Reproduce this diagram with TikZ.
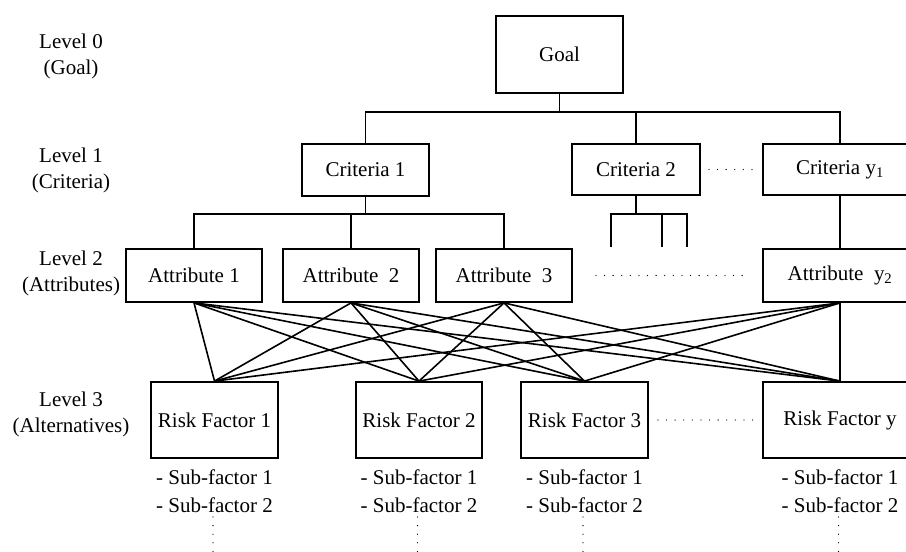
\documentclass[tikz,border=0pt]{standalone}
\usepackage{fontspec}
\setmainfont{Liberation Serif}
\begin{document}
\begin{tikzpicture}[x=1pt,y=-1pt,
  every node/.style={font=\fontsize{21}{26}\selectfont},
  box/.style={draw, line width=1.8pt, inner sep=0pt, align=center},
  link/.style={line width=1.6pt},
  dotrow/.style={line width=1.3pt, line cap=round, dash pattern=on 0pt off 8.6pt},
  lvl/.style={align=center, inner sep=0pt},
  subs/.style={align=left, inner sep=0pt, font=\fontsize{21}{28}\selectfont}]

\clip (0,0) rectangle (906,552);

% level captions
\node[lvl] (l0) at (71,56)    {Level 0\\(Goal)};
\node[lvl] (l1) at (71,170.5) {Level 1\\(Criteria)};
\node[lvl] (l2) at (71,273.5) {Level 2\\(Attributes)};
\node[lvl] (l3) at (71,414.5) {Level 3\\(Alternatives)};

% goal
\node[box, minimum width=127pt, minimum height=77pt] (goal) at (559.5,54.5) {Goal};

% criteria
\node[box, minimum width=127pt, minimum height=52pt] (c1) at (365.5,170) {Criteria 1};
\node[box, minimum width=128pt, minimum height=51pt] (c2) at (636,169.5) {Criteria 2};
\node[box, minimum width=154pt, minimum height=51pt] (cy) at (840,169.5) {Criteria y\textsubscript{1}};

% attributes
\node[box, minimum width=136pt, minimum height=53pt] (a1) at (194,275.5) {Attribute 1};
\node[box, minimum width=136pt, minimum height=53pt] (a2) at (351,275.5) {Attribute\ \ 2};
\node[box, minimum width=136pt, minimum height=53pt] (a3) at (504,275.5) {Attribute\ \ 3};
\node[box, minimum width=154pt, minimum height=53pt] (ay) at (840,275.5) {Attribute\ \ y\textsubscript{2}};

% alternatives
\node[box, minimum width=127pt, minimum height=76pt] (r1) at (214.5,420) {Risk Factor 1};
\node[box, minimum width=126pt, minimum height=76pt] (r2) at (419,420)   {Risk Factor 2};
\node[box, minimum width=127pt, minimum height=76pt] (r3) at (584.5,420) {Risk Factor 3};
\node[box, minimum width=154pt, minimum height=76pt] (ry) at (840,420)   {Risk Factor y};

% sub-factor lists
\node[subs] (s1) at (214.5,491) {- Sub-factor 1\\- Sub-factor 2};
\node[subs] (s2) at (419,491)   {- Sub-factor 1\\- Sub-factor 2};
\node[subs] (s3) at (584.5,491) {- Sub-factor 1\\- Sub-factor 2};
\node[subs] (sy) at (840,491)   {- Sub-factor 1\\- Sub-factor 2};

% helper levels for the buses
\coordinate (busA) at (0,112);
\coordinate (busB) at (0,214);
\coordinate (stubA) at (611,247);
\coordinate (stubB) at (662,247);
\coordinate (stubC) at (687,247);
\coordinate (listtop) at (0,517);
\coordinate (pagebot) at (0,552);

% goal to criteria
\draw[link] (goal.south) -- (goal.south |- busA);
\draw[link] (c1.north) |- (cy.north |- busA) -- (cy.north);
\draw[link] (c2.north) -- (c2.north |- busA);

% criteria 1 to its attributes
\draw[link] (c1.south) -- (c1.south |- busB);
\draw[link] (a1.north) |- (a3.north |- busB) -- (a3.north);
\draw[link] (a2.north) -- (a2.north |- busB);

% criteria 2 branches
\draw[link] (c2.south) -- (c2.south |- busB);
\draw[link] (stubA) |- (stubC |- busB) -- (stubC);
\draw[link] (stubB) -- (stubB |- busB);

% criteria y1 to attribute y2
\draw[link] (cy.south) -- (ay.north);

% every attribute to every alternative
\foreach \a in {a1,a2,a3,ay}
  \foreach \r in {r1,r2,r3,ry}
    \draw[link] (\a.south) -- (\r.north);

% ellipses between boxes
\draw[dotrow] (c2.east) ++(8,0) -- ([xshift=-8pt]cy.west);
\draw[dotrow] ([xshift=23pt]a3.east) -- ([xshift=-20pt]ay.west);
\draw[dotrow] ([xshift=9pt]r3.east) -- ([xshift=-3pt]ry.west);

% continuation dots below the lists
\foreach \s in {s1,s2,s3,sy}
  \draw[dotrow] ([xshift=-1.5pt]\s.center |- listtop) -- ([xshift=-1.5pt]\s.center |- pagebot);
\end{tikzpicture}
\end{document}
